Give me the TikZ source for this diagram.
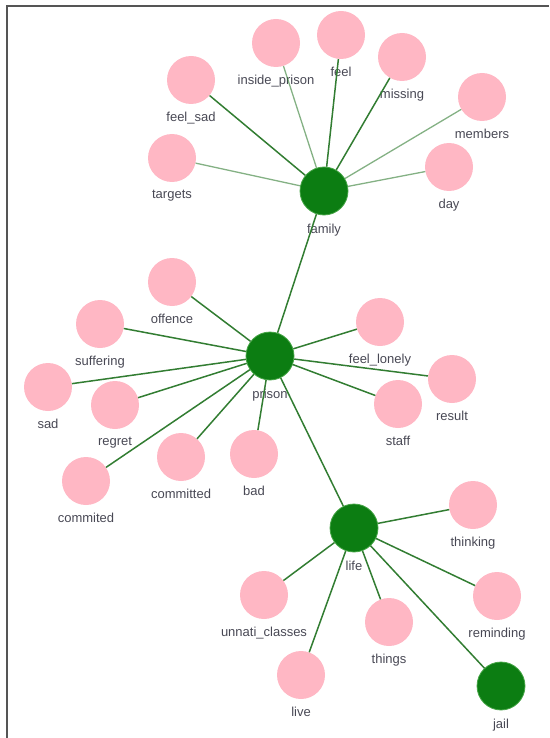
\documentclass[tikz,border=0pt]{standalone}
\usepackage{fontspec}
\setmainfont{Liberation Sans}
\usepackage{xcolor}
\definecolor{hubgreen}{RGB}{12,125,18}
\definecolor{hubrim}{RGB}{70,165,70}
\definecolor{leafpink}{RGB}{255,183,196}
\definecolor{edgegreen}{RGB}{50,125,50}
\definecolor{labelgrey}{RGB}{72,72,84}
\definecolor{framegrey}{RGB}{85,85,85}
\begin{document}
\begin{tikzpicture}[x=1pt,y=-1pt,
    hub/.style={circle,fill=hubgreen,draw=hubrim,line width=0.8pt,minimum size=48pt,inner sep=0pt},
    leaf/.style={circle,fill=leafpink,minimum size=48pt,inner sep=0pt},
    lbl/.style={font=\fontsize{13}{15}\selectfont,text=labelgrey,inner sep=2pt},
    every label/.style={label distance=6pt},
    link/.style={draw=edgegreen,line width=1.5pt},
    faint/.style={draw=edgegreen,line width=1.3pt,opacity=0.6}]
            \useasboundingbox (0,0) rectangle (549,738);
            \draw[framegrey,line width=2pt] (7,738) -- (7,6) -- (549,6);

            \node (family) at (324,191) [hub,label={[lbl]below:family}] {};
            \node (targets) at (172,158) [leaf,label={[lbl]below:targets}] {};
            \node (feelsad) at (191,80) [leaf,label={[lbl]below:feel\_sad}] {};
            \node (inside) at (276,43) [leaf,label={[lbl]below:inside\_prison}] {};
            \node (feel) at (341,35) [leaf,label={[lbl]below:feel}] {};
            \node (missing) at (402,57) [leaf,label={[lbl]below:missing}] {};
            \node (members) at (482,97) [leaf,label={[lbl]below:members}] {};
            \node (day) at (449,167) [leaf,label={[lbl]below:day}] {};

            \node (prison) at (270,356) [hub,label={[lbl]below:prison}] {};
            \node (offence) at (172,282) [leaf,label={[lbl]below:offence}] {};
            \node (suffering) at (100,324) [leaf,label={[lbl]below:suffering}] {};
            \node (sad) at (48,387) [leaf,label={[lbl]below:sad}] {};
            \node (regret) at (115,405) [leaf,label={[lbl]below:regret}] {};
            \node (commited) at (86,481) [leaf,label={[lbl]below:commited}] {};
            \node (committed) at (181,457) [leaf,label={[lbl]below:committed}] {};
            \node (bad) at (254,454) [leaf,label={[lbl]below:bad}] {};
            \node (lonely) at (380,322) [leaf,label={[lbl]below:feel\_lonely}] {};
            \node (result) at (452,379) [leaf,label={[lbl]below:result}] {};
            \node (staff) at (398,404) [leaf,label={[lbl]below:staff}] {};

            \node (life) at (354,528) [hub,label={[lbl]below:life}] {};
            \node (thinking) at (473,505) [leaf,label={[lbl]below:thinking}] {};
            \node (reminding) at (497,596) [leaf,label={[lbl]below:reminding}] {};
            \node (things) at (389,622) [leaf,label={[lbl]below:things}] {};
            \node (unnati) at (264,595) [leaf,label={[lbl]below:unnati\_classes}] {};
            \node (live) at (301,675) [leaf,label={[lbl]below:live}] {};
            \node (jail) at (501,686) [hub,label={[lbl]below:jail}] {};

            \path[faint] (family) -- (targets) (family) -- (inside) (family) -- (members) (family) -- (day);
            \path[link] (family) -- (feelsad) (family) -- (feel) (family) -- (missing) (family) -- (prison);
            \path[link] (prison) -- (offence) (prison) -- (suffering) (prison) -- (sad) (prison) -- (regret) (prison) -- (commited) (prison) -- (committed) (prison) -- (bad) (prison) -- (lonely) (prison) -- (result) (prison) -- (staff) (prison) -- (life);
            \path[link] (life) -- (thinking) (life) -- (reminding) (life) -- (things) (life) -- (unnati) (life) -- (live) (life) -- (jail);
        \end{tikzpicture}
\end{document}
